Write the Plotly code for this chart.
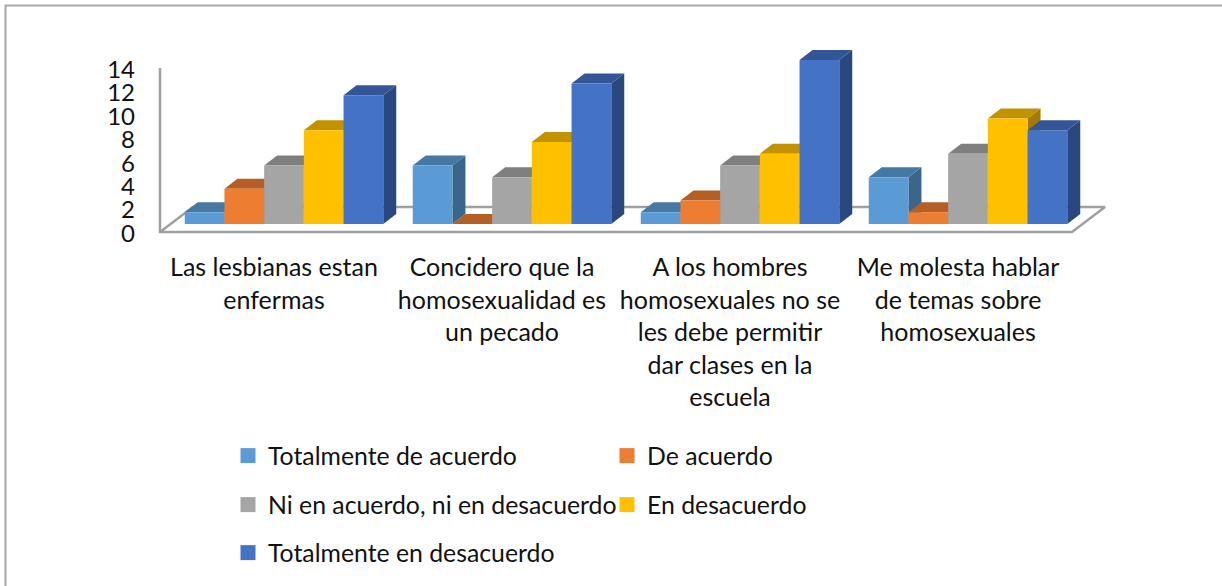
import plotly.graph_objects as go

W, H = 1222, 586
CATEGORIES = [
    "Las lesbianas estan<br>enfermas",
    "Concidero que la<br>homosexualidad es<br>un pecado",
    "A los hombres<br>homosexuales no se<br>les debe permitir<br>dar clases en la<br>escuela",
    "Me molesta hablar<br>de temas sobre<br>homosexuales",
]
SERIES = [
    "Totalmente de acuerdo",
    "De acuerdo",
    "Ni en acuerdo, ni en desacuerdo",
    "En desacuerdo",
    "Totalmente en desacuerdo",
]
VALUES = [
    [1, 5, 1, 4],
    [3, 0, 2, 1],
    [5, 4, 5, 6],
    [8, 7, 6, 9],
    [11, 12, 14, 8],
]
FRONT = ["#5B9BD5", "#ED7D31", "#A5A5A5", "#FFC000", "#4472C4"]
TOP = ["#4678A4", "#B55F24", "#7F7F7F", "#C29300", "#345696"]
SIDE = ["#3B6689", "#9E5320", "#6C6C6C", "#A37B00", "#2A4880"]
Y_TICKS = [0, 2, 4, 6, 8, 10, 12, 14]

# front plane of the chart in pixels
L, R, T, B = 160, 1072, 68, 232
PX_X = (R - L) / 4
PX_Y = (B - T) / 14
# drawing frame, larger than the front plane so the depth is not clipped
FL, FR, FT, FB = 150, 1115, 45, 240
XR = [-0.5 + (FL - L) / PX_X, -0.5 + (FR - L) / PX_X]
YR = [(B - FB) / PX_Y, (B - FT) / PX_Y]

BAR_W = 39.7 / PX_X
DEPTH_X, DEPTH_Y = 13 / PX_X, 10 / PX_Y       # depth of a bar
SHIFT_X, SHIFT_Y = 10 / PX_X, 8 / PX_Y        # bars stand back from the front edge
FLOOR_X, FLOOR_Y = 33 / PX_X, 25 / PX_Y       # depth of the floor
LABEL_SHIFT = 1.5 / PX_Y                      # value labels sit just below their level
GREY = "#A0A0A0"
FONT = "Lato, Carlito, Calibri, sans-serif"

fig = go.Figure()

# legend rows: these entries live on the base axes, which carry the labels
ROWS = [(0, 1), (2, 3), (4,)]
ROW_PX = [456, 505, 553]
LEGEND_IDS = ["legend", "legend2", "legend3"]
for ids, lid in zip(ROWS, LEGEND_IDS):
    for s in ids:
        fig.add_trace(go.Scatter(
            x=[None], y=[None], mode="markers", name=SERIES[s], legend=lid,
            marker=dict(symbol="square", size=15, color=FRONT[s]),
            hoverinfo="skip",
        ))

# value axis line and floor outline
fig.add_trace(go.Scatter(
    x=[-0.5, -0.5, 3.5, 3.5 + FLOOR_X, -0.5 + FLOOR_X, -0.5],
    y=[14, 0, 0, FLOOR_Y, FLOOR_Y, 0],
    mode="lines", line=dict(color=GREY, width=2.5), hoverinfo="skip",
    showlegend=False, xaxis="x2", yaxis="y2",
))

# top and side faces, painted left to right
for c in range(len(CATEGORIES)):
    for s in range(len(SERIES)):
        v = VALUES[s][c]
        x0 = c + SHIFT_X + (s - 2.5) * BAR_W
        x1 = x0 + BAR_W
        y0 = SHIFT_Y
        yt = v + SHIFT_Y
        fig.add_trace(go.Scatter(
            x=[x1, x1 + DEPTH_X, x1 + DEPTH_X, x1, x1],
            y=[y0, y0 + DEPTH_Y, yt + DEPTH_Y, yt, y0],
            mode="lines", line=dict(width=0), fill="toself", fillcolor=SIDE[s],
            hoverinfo="skip", showlegend=False, xaxis="x2", yaxis="y2",
        ))
        fig.add_trace(go.Scatter(
            x=[x0, x1, x1 + DEPTH_X, x0 + DEPTH_X, x0],
            y=[yt, yt, yt + DEPTH_Y, yt + DEPTH_Y, yt],
            mode="lines", line=dict(width=0), fill="toself", fillcolor=TOP[s],
            hoverinfo="skip", showlegend=False, xaxis="x2", yaxis="y2",
        ))

# front faces on an overlaying, shifted pair of axes so they sit above the faces
for s, name in enumerate(SERIES):
    fig.add_trace(go.Bar(
        x=list(range(len(CATEGORIES))), y=VALUES[s], name=name,
        marker=dict(color=FRONT[s], line=dict(width=0)),
        xaxis="x3", yaxis="y3", showlegend=False,
    ))

legend_common = dict(
    orientation="h", xref="container", yref="container", x=228 / W,
    xanchor="left", yanchor="middle", entrywidth=334, entrywidthmode="pixels",
    font=dict(family=FONT, size=24.8, color="#111111"), bgcolor="rgba(0,0,0,0)",
    itemclick=False, itemdoubleclick=False,
)

fig.update_layout(
    width=W, height=H, autosize=False,
    margin=dict(l=FL, r=W - FR, t=FT, b=H - FB, pad=0, autoexpand=False),
    paper_bgcolor="white", plot_bgcolor="rgba(0,0,0,0)",
    barmode="group", bargap=1 - 5 * BAR_W, bargroupgap=0,
    xaxis=dict(
        range=XR, tickmode="array", tickvals=list(range(len(CATEGORIES))),
        ticktext=CATEGORIES, tickangle=0, showgrid=False, zeroline=False,
        showline=False, ticks="", ticklabelstandoff=10,
        tickfont=dict(family=FONT, size=25, color="#111111"),
    ),
    yaxis=dict(
        range=[YR[0] + LABEL_SHIFT, YR[1] + LABEL_SHIFT], tickmode="array",
        tickvals=Y_TICKS, showgrid=False, zeroline=False, showline=False, ticks="",
        tickfont=dict(family=FONT, size=24, color="#111111"), ticklabelstandoff=14,
    ),
    xaxis2=dict(range=XR, overlaying="x", visible=False),
    yaxis2=dict(range=YR, overlaying="y", visible=False),
    xaxis3=dict(range=[XR[0] - SHIFT_X, XR[1] - SHIFT_X], overlaying="x", visible=False),
    yaxis3=dict(range=[YR[0] - SHIFT_Y, YR[1] - SHIFT_Y], overlaying="y", visible=False),
    legend=dict(legend_common, y=1 - ROW_PX[0] / H),
    legend2=dict(legend_common, y=1 - ROW_PX[1] / H),
    legend3=dict(legend_common, y=1 - ROW_PX[2] / H),
    shapes=[dict(
        type="rect", xref="paper", yref="paper", layer="below",
        x0=(5.5 - FL) / (FR - FL), x1=(1300 - FL) / (FR - FL),
        y0=(FB - 700) / (FB - FT), y1=(FB - 5.5) / (FB - FT),
        line=dict(color="#A6A6A6", width=2), fillcolor="rgba(0,0,0,0)",
    )],
)

fig.write_html("out.html", config={"displayModeBar": False},
               post_script="document.body.style.margin='0';")
